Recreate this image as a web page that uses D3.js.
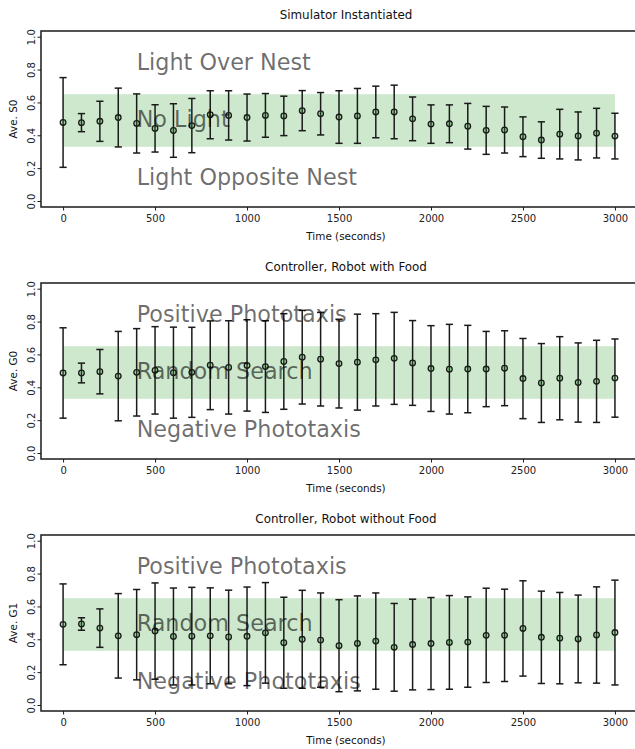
<!DOCTYPE html>
<html>
<head>
<meta charset="utf-8">
<script src="https://cdn.jsdelivr.net/npm/d3@7"></script>
<style>
  html, body { margin: 0; padding: 0; background: #fff; }
  svg { display: block; font-family: "DejaVu Sans", sans-serif; }
</style>
</head>
<body>
<svg id="chart" width="635" height="749"></svg>
<script>
// Sample times (seconds)
const times = d3.range(0, 3001, 100);

// Simulator Instantiated: mean and standard deviation of S0
const s0Mean = [0.478, 0.477, 0.485, 0.508, 0.472, 0.442, 0.429, 0.459, 0.525, 0.521,
                0.508, 0.521, 0.518, 0.550, 0.531, 0.511, 0.518, 0.542, 0.542, 0.500,
                0.468, 0.470, 0.455, 0.430, 0.432, 0.391, 0.371, 0.407, 0.396, 0.413, 0.395];
const s0Std  = [0.273, 0.055, 0.122, 0.179, 0.180, 0.144, 0.163, 0.165, 0.146, 0.150,
                0.143, 0.133, 0.120, 0.122, 0.129, 0.160, 0.167, 0.157, 0.163, 0.133,
                0.117, 0.115, 0.139, 0.146, 0.140, 0.121, 0.111, 0.151, 0.146, 0.151, 0.139];

// Controller, robot with food: mean and standard deviation of G0
const g0Mean = [0.487, 0.487, 0.495, 0.468, 0.491, 0.503, 0.489, 0.491, 0.534, 0.521,
                0.533, 0.526, 0.557, 0.583, 0.571, 0.544, 0.553, 0.567, 0.576, 0.548,
                0.514, 0.510, 0.511, 0.511, 0.516, 0.453, 0.426, 0.455, 0.429, 0.436, 0.456];
const g0Std  = [0.275, 0.060, 0.135, 0.272, 0.266, 0.266, 0.277, 0.274, 0.270, 0.284,
                0.278, 0.279, 0.291, 0.285, 0.285, 0.270, 0.292, 0.281, 0.280, 0.258,
                0.261, 0.273, 0.266, 0.229, 0.228, 0.244, 0.240, 0.253, 0.241, 0.250, 0.238];

// Controller, robot without food: mean and standard deviation of G1
const g1Mean = [0.491, 0.493, 0.468, 0.421, 0.428, 0.450, 0.417, 0.419, 0.421, 0.414,
                0.418, 0.439, 0.379, 0.400, 0.395, 0.361, 0.375, 0.389, 0.351, 0.368,
                0.374, 0.381, 0.383, 0.424, 0.424, 0.466, 0.412, 0.407, 0.402, 0.426, 0.441];
const g1Std  = [0.246, 0.038, 0.117, 0.257, 0.275, 0.293, 0.295, 0.297, 0.292, 0.285,
                0.300, 0.306, 0.277, 0.298, 0.287, 0.280, 0.289, 0.293, 0.267, 0.276,
                0.280, 0.285, 0.275, 0.287, 0.281, 0.290, 0.281, 0.278, 0.267, 0.293, 0.319];

// Axis ticks
const xTicks = [0, 500, 1000, 1500, 2000, 2500, 3000];
const yTicks = [0.0, 0.2, 0.4, 0.6, 0.8, 1.0];

// Band of "neutral" behaviour and the region annotations
const bandRange = [0.33, 0.65];
const titles = ["Simulator Instantiated", "Controller, Robot with Food", "Controller, Robot without Food"];
const yLabels = ["Ave. S0", "Ave. G0", "Ave. G1"];
const regionLabels = [
  ["Light Over Nest", "No Light", "Light Opposite Nest"],
  ["Positive Phototaxis", "Random Search", "Negative Phototaxis"],
  ["Positive Phototaxis", "Random Search", "Negative Phototaxis"]
];
const regionLevels = [0.8, 0.45, 0.1];
const labelTime = 400;

const means = [s0Mean, g0Mean, g1Mean];
const stds = [s0Std, g0Std, g1Std];

const svg = d3.select("#chart");
const panelTops = [31, 283, 535];
const panelH = 176;
const left = 41, right = 651;

const x = d3.scaleLinear().domain([-120, 3196]).range([left, right]);

panelTops.forEach((top, p) => {
  const bottom = top + panelH;
  const y = d3.scaleLinear().domain([-0.0365, 1.0347]).range([bottom, top]);
  const g = svg.append("g");

  // shaded band
  g.append("rect")
    .attr("x", x(0)).attr("width", x(3000) - x(0))
    .attr("y", y(bandRange[1])).attr("height", y(bandRange[0]) - y(bandRange[1]))
    .attr("fill", "#2ca02c").attr("fill-opacity", 0.24);

  // error bars
  const data = times.map((t, i) => ({t, m: means[p][i], s: stds[p][i]}));
  const eb = g.append("g").attr("stroke", "#1a1a1a").attr("stroke-width", 1.5).attr("fill", "none");
  data.forEach(d => {
    const xx = x(d.t);
    eb.append("line").attr("x1", xx).attr("x2", xx).attr("y1", y(d.m - d.s)).attr("y2", y(d.m + d.s));
    eb.append("line").attr("x1", xx - 3.6).attr("x2", xx + 3.6).attr("y1", y(d.m + d.s)).attr("y2", y(d.m + d.s));
    eb.append("line").attr("x1", xx - 3.6).attr("x2", xx + 3.6).attr("y1", y(d.m - d.s)).attr("y2", y(d.m - d.s));
  });
  g.append("g").selectAll("circle").data(data).join("circle")
    .attr("cx", d => x(d.t)).attr("cy", d => y(d.m)).attr("r", 2.8)
    .attr("fill", "#2ca02c").attr("fill-opacity", 0.25)
    .attr("stroke", "#1a1a1a").attr("stroke-width", 1.3);

  // region annotations
  regionLabels[p].forEach((txt, k) => {
    g.append("text")
      .attr("x", x(labelTime)).attr("y", y(regionLevels[k]))
      .attr("font-size", 22.3).attr("fill", "#000").attr("fill-opacity", 0.58)
      .text(txt);
  });

  // axes
  const xAxis = d3.axisBottom(x).tickValues(xTicks).tickSize(3.5).tickPadding(4).tickFormat(d3.format("d"));
  const ax = g.append("g").attr("transform", `translate(0,${bottom})`).call(xAxis);
  ax.select(".domain").remove();
  ax.selectAll("line").attr("stroke", "#1a1a1a").attr("stroke-width", 1);
  ax.selectAll("text").attr("font-size", 10).attr("fill", "#222").attr("font-family", "DejaVu Sans");

  const yAxis = d3.axisLeft(y).tickValues(yTicks).tickSize(3.5).tickFormat(d3.format(".1f"));
  const ay = g.append("g").attr("transform", `translate(${left},0)`).call(yAxis);
  ay.select(".domain").remove();
  ay.selectAll("line").attr("stroke", "#1a1a1a").attr("stroke-width", 1);
  ay.selectAll("text")
    .attr("font-size", 10).attr("fill", "#222").attr("font-family", "DejaVu Sans")
    .attr("x", null).attr("dy", null)
    .attr("text-anchor", "middle")
    .attr("transform", "translate(-6,0) rotate(-90)")
    .attr("y", 0);

  // frame
  g.append("rect")
    .attr("x", left).attr("y", top).attr("width", right - left).attr("height", panelH)
    .attr("fill", "none").attr("stroke", "#1a1a1a").attr("stroke-width", 1.5);

  // title and axis labels
  const cx = (left + right) / 2;
  g.append("text").attr("x", cx).attr("y", top - 12)
    .attr("text-anchor", "middle").attr("font-size", 11.9).attr("fill", "#111").text(titles[p]);
  g.append("text").attr("x", cx).attr("y", bottom + 33)
    .attr("text-anchor", "middle").attr("font-size", 10.4).attr("fill", "#111").text("Time (seconds)");
  g.append("text")
    .attr("transform", `translate(17,${(top + bottom) / 2}) rotate(-90)`)
    .attr("text-anchor", "middle").attr("font-size", 10.4).attr("fill", "#111").text(yLabels[p]);
});
</script>
</body>
</html>
